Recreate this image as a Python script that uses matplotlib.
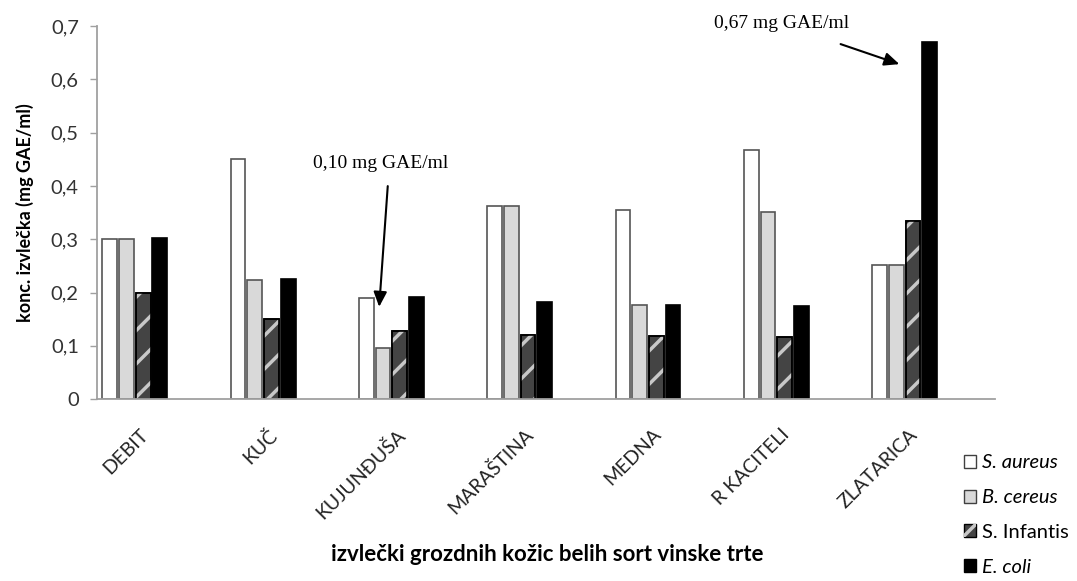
import numpy as np
import matplotlib
matplotlib.use("Agg")
import matplotlib.pyplot as plt
from matplotlib.patches import Patch
from matplotlib.legend_handler import HandlerTuple

plt.rcParams['font.family'] = ['Lato', 'DejaVu Sans']
plt.rcParams['hatch.linewidth'] = 2.5

# data
varieties = ['DEBIT', 'KUČ', 'KUJUNĐUŠA', 'MARAŠTINA', 'MEDNA', 'R KACITELI', 'ZLATARICA']
s_aureus = [0.30, 0.45, 0.19, 0.363, 0.355, 0.467, 0.251]
b_cereus = [0.30, 0.223, 0.096, 0.363, 0.177, 0.351, 0.251]
s_infantis = [0.20, 0.15, 0.127, 0.12, 0.118, 0.116, 0.335]
e_coli = [0.302, 0.225, 0.192, 0.182, 0.177, 0.175, 0.671]
series_names = ['S. aureus', 'B. cereus', 'S. Infantis', 'E. coli']
y_ticks = [0, 0.1, 0.2, 0.3, 0.4, 0.5, 0.6, 0.7]
y_ticklabels = ['0', '0,1', '0,2', '0,3', '0,4', '0,5', '0,6', '0,7']

fig = plt.figure(figsize=(10.77, 5.81), dpi=100)
ax = fig.add_axes([0.090, 0.313, 0.834, 0.642])

x = np.arange(len(varieties))
w = 0.115
offs = [-0.40, -0.27, -0.14, -0.01]

ax.bar(x + offs[0], s_aureus, w, color='white', edgecolor='#555555', lw=1.2)
ax.bar(x + offs[1], b_cereus, w, color='#d9d9d9', edgecolor='#555555', lw=1.2)
ax.bar(x + offs[2], s_infantis, w, color='#444444', edgecolor='black', lw=1.2)
ax.bar(x + offs[2], s_infantis, w, fill=False, hatch='/', edgecolor='#c8c8c8', lw=0)
ax.bar(x + offs[2], s_infantis, w, fill=False, edgecolor='black', lw=1.2)
ax.bar(x + offs[3], e_coli, w, color='black', edgecolor='black', lw=1.2)

ax.set_xlim(-0.5, len(varieties) - 0.5)
ax.set_ylim(0, 0.7)
ax.set_yticks(y_ticks)
ax.set_yticklabels(y_ticklabels, fontsize=14.5, color='#333333')
ax.set_xticks(x - 0.17)
ax.set_xticklabels(varieties, rotation=45, ha='right', rotation_mode='anchor',
                   fontsize=14, color='#222222')
ax.tick_params(axis='x', length=0, pad=19)
ax.tick_params(axis='y', length=5, color='#a0a0a0', width=1, pad=8)

for s in ['top', 'right']:
    ax.spines[s].set_visible(False)
for s in ['left', 'bottom']:
    ax.spines[s].set_color('#a0a0a0')
    ax.spines[s].set_linewidth(1.3)

ax.set_ylabel('konc. izvlečka (mg GAE/ml)', fontsize=13, fontweight='bold', labelpad=12)
fig.text(0.508, 0.045, 'izvlečki grozdnih kožic belih sort vinske trte',
         fontsize=16, fontweight='bold', ha='center', va='center')

# annotations
arrow = dict(arrowstyle='-|>,head_length=0.9,head_width=0.4', lw=1.5, color='black')
ax.annotate('', xy=(1.698, 0.168), xytext=(1.768, 0.405), arrowprops=arrow)
ax.text(1.714, 0.443, '0,10 mg GAE/ml', fontsize=14, ha='center', va='center',
        family='Liberation Serif')
ax.annotate('', xy=(5.774, 0.627), xytext=(5.275, 0.668), arrowprops=arrow,
            annotation_clip=False)
ax.text(4.839, 0.705, '0,67 mg GAE/ml', fontsize=14, ha='center', va='center',
        family='Liberation Serif')

# legend
handles = [
    Patch(facecolor='white', edgecolor='#404040', lw=1),
    Patch(facecolor='#d9d9d9', edgecolor='#404040', lw=1),
    (Patch(facecolor='#444444', edgecolor='black', lw=1),
     Patch(fill=False, hatch='/', edgecolor='#c8c8c8', lw=0)),
    Patch(facecolor='black', edgecolor='black', lw=1),
]
leg = fig.legend(handles, series_names, loc='lower left', bbox_to_anchor=(0.878, -0.022),
                 frameon=False, fontsize=14.5, handlelength=0.6, handleheight=0.6,
                 handletextpad=0.3, labelspacing=0.88,
                 handler_map={tuple: HandlerTuple(ndivide=1, pad=0)})
for t, name in zip(leg.get_texts(), series_names):
    if name != 'S. Infantis':
        t.set_fontstyle('italic')

fig.savefig('out.png', dpi=100)
